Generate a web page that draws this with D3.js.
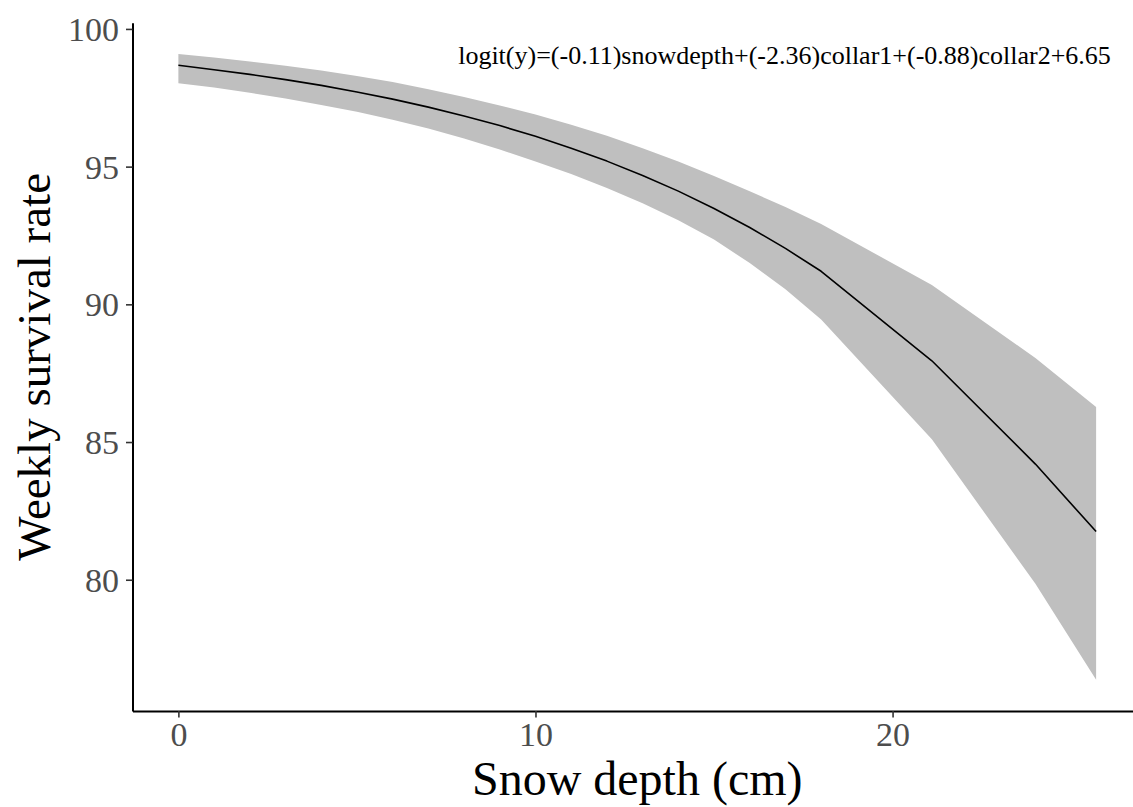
<!DOCTYPE html>
<html>
<head>
<meta charset="utf-8">
<script src="https://cdn.jsdelivr.net/npm/d3@7"></script>
<style>
  html, body { margin: 0; padding: 0; background: #fff; overflow: hidden; }
  svg { display: block; font-family: "Liberation Serif", "Times New Roman", serif; }
</style>
</head>
<body>
<svg id="chart" width="1133" height="807"></svg>
<script>
// Snow depth (cm) at which the fitted survival curve was evaluated
const snowDepth = [0, 1, 2, 3, 4, 5, 6, 7, 8, 9, 10, 11, 12, 13, 14, 15, 16, 17, 18, 21.1, 24, 25.7];
// Predicted weekly survival rate (%)
const survival  = [98.68, 98.52, 98.35, 98.16, 97.95, 97.71, 97.45, 97.16, 96.84, 96.49, 96.10,
                   95.67, 95.20, 94.68, 94.11, 93.48, 92.79, 92.03, 91.20, 87.95, 84.20, 81.75];
// 95% confidence band (%)
const upperCI   = [99.09, 98.96, 98.82, 98.66, 98.49, 98.29, 98.07, 97.81, 97.53, 97.22, 96.89,
                   96.52, 96.12, 95.67, 95.19, 94.66, 94.11, 93.53, 92.92, 90.70, 88.05, 86.27];
const lowerCI   = [98.03, 97.87, 97.68, 97.47, 97.24, 96.99, 96.70, 96.38, 96.02, 95.62, 95.19,
                   94.73, 94.22, 93.67, 93.05, 92.35, 91.50, 90.55, 89.45, 85.10, 79.85, 76.37];

const xTicks = [0, 10, 20];
const yTicks = [80, 85, 90, 95, 100];

const equation = "logit(y)=(-0.11)snowdepth+(-2.36)collar1+(-0.88)collar2+6.65";
const xTitle = "Snow depth (cm)";
const yTitle = "Weekly survival rate";

const rows = snowDepth.map((d, i) => ({ x: d, y: survival[i], lo: lowerCI[i], hi: upperCI[i] }));

const svg = d3.select("#chart");
const panel = { left: 132.5, right: 1142, top: 22.7, bottom: 711 };

// 5% padding on each side of the data range
function padded(lo, hi) { const p = (hi - lo) * 0.05; return [lo - p, hi + p]; }

const x = d3.scaleLinear()
  .domain(padded(d3.min(snowDepth), d3.max(snowDepth)))
  .range([panel.left, panel.right]);
const y = d3.scaleLinear()
  .domain(padded(d3.min(lowerCI), d3.max(upperCI)))
  .range([panel.bottom, panel.top]);

// confidence ribbon
svg.append("path")
  .datum(rows)
  .attr("fill", "#bfbfbf")
  .attr("d", d3.area().x(d => x(d.x)).y0(d => y(d.lo)).y1(d => y(d.hi)));

// fitted line
svg.append("path")
  .datum(rows)
  .attr("fill", "none")
  .attr("stroke", "#000")
  .attr("stroke-width", 1.6)
  .attr("stroke-linejoin", "round")
  .attr("d", d3.line().x(d => x(d.x)).y(d => y(d.y)));

// axes
const xAxis = svg.append("g")
  .attr("transform", `translate(0,${panel.bottom})`)
  .call(d3.axisBottom(x).tickValues(xTicks).tickSizeInner(6.5).tickSizeOuter(0)
        .tickPadding(4).tickFormat(d3.format("d")));
const yAxis = svg.append("g")
  .attr("transform", `translate(${panel.left},0)`)
  .call(d3.axisLeft(y).tickValues(yTicks).tickSizeInner(6.5).tickSizeOuter(0)
        .tickPadding(7).tickFormat(d3.format("d")));

[xAxis, yAxis].forEach(g => {
  g.select(".domain").attr("stroke", "#000").attr("stroke-width", 2);
  g.selectAll(".tick line").attr("stroke", "#333").attr("stroke-width", 1.6);
  g.selectAll(".tick text")
    .attr("fill", "#4d4d4d")
    .style("font-family", "'Liberation Serif', serif")
    .style("font-size", "34px");
});
yAxis.selectAll(".tick text").attr("dy", "0.34em");
xAxis.selectAll(".tick text").attr("dy", "0.72em");

// axis titles
svg.append("text")
  .attr("x", (panel.left + panel.right) / 2)
  .attr("y", 795)
  .attr("text-anchor", "middle")
  .style("font-size", "48px")
  .attr("fill", "#000")
  .text(xTitle);

svg.append("text")
  .attr("transform", `translate(50,${(panel.top + panel.bottom) / 2}) rotate(-90)`)
  .attr("text-anchor", "middle")
  .style("font-size", "47px")
  .attr("fill", "#000")
  .text(yTitle);

// model equation
svg.append("text")
  .attr("x", 784.5)
  .attr("y", 63.5)
  .attr("text-anchor", "middle")
  .style("font-size", "26px")
  .attr("fill", "#000")
  .text(equation);
</script>
</body>
</html>
